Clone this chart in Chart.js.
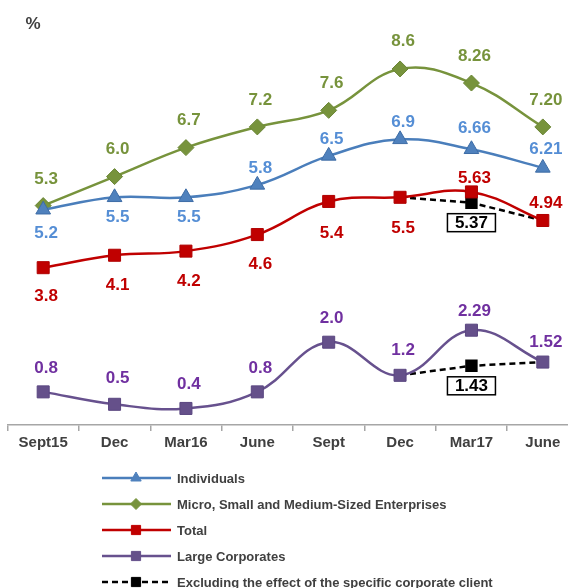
<!DOCTYPE html>
<html>
<head>
<meta charset="utf-8">
<title>Non-performing loan ratio</title>
<script src="https://cdn.jsdelivr.net/npm/chart.js@4.4.0/dist/chart.umd.min.js"></script>
<style>
    html, body { margin: 0; padding: 0; background: #fff; overflow: hidden; }
    #wrap { width: 590px; height: 588px; margin-left: -2px; }
</style>
</head>
<body>
<div id="wrap"><canvas id="nplChart" width="590" height="588"></canvas></div>
<script>
// ===================================
// Data
// ===================================
const quarters = ['Sept15', 'Dec', 'Mar16', 'June', 'Sept', 'Dec', 'Mar17', 'June'];
const individuals = [5.2, 5.5, 5.5, 5.8, 6.5, 6.9, 6.66, 6.21];
const smes = [5.3, 6.0, 6.7, 7.2, 7.6, 8.6, 8.26, 7.20];
const total = [3.8, 4.1, 4.2, 4.6, 5.4, 5.5, 5.63, 4.94];
const largeCorporates = [0.8, 0.5, 0.4, 0.8, 2.0, 1.2, 2.29, 1.52];
const totalExClient = [null, null, null, null, null, 5.5, 5.37, 4.94];
const largeExClient = [null, null, null, null, null, 1.2, 1.43, 1.52];
const labelDecimals = [1, 1, 1, 1, 1, 1, 2, 2];

const FONT = '"Liberation Sans", Arial, sans-serif';
const TEXT_GREY = '#404040';
const SHIFT = 2; // canvas is pulled 2px left by css

// Build a smoothed series
function series(label, data, line, fill, edge, style, radius, labelColor, offsets) {
    return {
        label: label,
        data: data,
        borderColor: line,
        borderWidth: 2.5,
        tension: 0.4,
        pointStyle: style,
        pointRadius: radius,
        pointBackgroundColor: fill,
        pointBorderColor: edge,
        pointBorderWidth: 1,
        labelColor: labelColor,
        labelOffsets: offsets
    };
}

// Build a dashed "excluding client" segment
function exSeries(data) {
    return {
        label: 'Excluding the effect of the specific corporate client',
        data: data,
        borderColor: '#000',
        borderWidth: 2.5,
        borderDash: [6, 4],
        tension: 0,
        pointStyle: 'rect',
        pointRadius: data.map((v, i) => i === 6 ? 7 : 0),
        pointBackgroundColor: '#000',
        pointBorderColor: '#000',
        labelColor: '#000',
        labelBoxed: true,
        labelOffsets: data.map((v, i) => i === 6 ? 20 : null)
    };
}

const datasets = [
    series('Individuals', individuals, '#4A7EBB', '#4F81BD', '#3D6CA6', 'triangle', 8.5, '#558ED5',
        [23, 19, 19, -18, -18, -18, -22, -20]),
    series('Micro, Small and Medium-Sized Enterprises', smes, '#77933C', '#77933C', '#6A8535', 'rectRot', 8, '#77933C',
        [-27, -28, -28, -28, -28, -29, -28, -28]),
    series('Total', total, '#C00000', '#C00000', '#B00000', 'rect', 8.5, '#C00000',
        [28, 29, 29, 29, 31, 30, -15, -18]),
    series('Large Corporates', largeCorporates, '#67518E', '#65508A', '#5A4680', 'rect', 8.5, '#7030A0',
        [-25, -27, -25, -25, -25, -26, -20, -21]),
    exSeries(totalExClient),
    exSeries(largeExClient)
];

// Value labels next to each point
const valueLabels = {
    id: 'valueLabels',
    afterDatasetsDraw(chart) {
        const ctx = chart.ctx;
        ctx.save();
        ctx.font = 'bold 17px ' + FONT;
        ctx.textAlign = 'center';
        ctx.textBaseline = 'middle';
        chart.data.datasets.forEach((ds, i) => {
            const meta = chart.getDatasetMeta(i);
            meta.data.forEach((pt, j) => {
                const off = ds.labelOffsets[j];
                if (off === null || ds.data[j] === null) return;
                const text = ds.data[j].toFixed(labelDecimals[j]);
                const x = ds.labelBoxed ? pt.x : pt.x + 3;
                const y = pt.y + off;
                if (ds.labelBoxed) {
                    ctx.fillStyle = '#fff';
                    ctx.fillRect(x - 24, y - 9, 48, 18);
                    ctx.lineWidth = 1.5;
                    ctx.strokeStyle = '#000';
                    ctx.strokeRect(x - 24, y - 9, 48, 18);
                }
                ctx.fillStyle = ds.labelColor;
                ctx.fillText(text, x, y + 1);
            });
        });
        ctx.restore();
    }
};

// Unit mark and one-per-row legend
const legendRows = {
    id: 'legendRows',
    afterDraw(chart) {
        const ctx = chart.ctx;
        ctx.save();
        ctx.translate(SHIFT, 0);
        ctx.fillStyle = TEXT_GREY;
        ctx.font = 'bold 17px ' + FONT;
        ctx.textAlign = 'center';
        ctx.textBaseline = 'middle';
        ctx.fillText('%', 33, 24);

        const rows = [0, 1, 2, 3, 4];
        const sizes = [6, 5.5, 6.5, 6.5, 6.5];
        rows.forEach((idx, r) => {
            const ds = chart.data.datasets[idx];
            const y = 478 + r * 26;
            ctx.save();
            ctx.strokeStyle = ds.borderColor;
            ctx.lineWidth = 2.5;
            ctx.setLineDash(ds.borderDash || []);
            ctx.beginPath();
            ctx.moveTo(102, y);
            ctx.lineTo(171, y);
            ctx.stroke();
            ctx.restore();
            ctx.fillStyle = ds.pointBackgroundColor;
            ctx.strokeStyle = ds.pointBackgroundColor;
            ctx.lineWidth = 1;
            Chart.helpers.drawPoint(ctx, {
                pointStyle: ds.pointStyle, radius: sizes[r], rotation: 0, borderWidth: 1
            }, 136, y);
            ctx.fillStyle = TEXT_GREY;
            ctx.font = 'bold 13px ' + FONT;
            ctx.textAlign = 'left';
            ctx.fillText(ds.label, 177, y + 1);
        });
        ctx.restore();
    }
};

new Chart(document.getElementById('nplChart'), {
    type: 'line',
    data: { labels: quarters, datasets: datasets },
    options: {
        responsive: false,
        animation: false,
        spanGaps: false,
        layout: { padding: { left: 3, top: 11, right: 0, bottom: 0 } },
        plugins: {
            legend: { display: false },
            tooltip: { enabled: false }
        },
        scales: {
            x: {
                type: 'category',
                offset: true,
                grid: {
                    offset: true,
                    drawOnChartArea: false,
                    drawTicks: true,
                    tickLength: 6,
                    color: '#A6A6A6',
                    lineWidth: 1.5
                },
                border: { display: true, color: '#A6A6A6', width: 1.5 },
                ticks: {
                    color: TEXT_GREY,
                    font: { family: FONT, size: 15, weight: 'bold' },
                    padding: 3,
                    maxRotation: 0,
                    autoSkip: false
                },
                afterFit: function(scale) { scale.height = 163; }
            },
            y: { display: false, min: 0, max: 10 }
        }
    },
    plugins: [valueLabels, legendRows]
});
</script>
</body>
</html>
